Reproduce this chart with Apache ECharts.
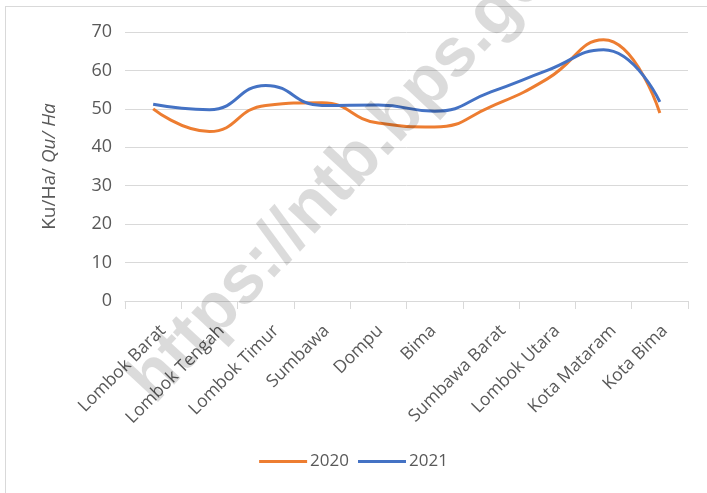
<!DOCTYPE html>
<html>
<head>
<meta charset="utf-8">
<script src="https://cdn.jsdelivr.net/npm/echarts@6/dist/echarts.min.js"></script>
<style>
  html, body { margin: 0; padding: 0; background: #fff; }
  #frame {
    position: absolute; left: 5px; top: 6px; width: 720px; height: 500px;
    border: 1px solid #d9d9d9; box-sizing: border-box;
  }
  #chart { position: absolute; left: 0; top: 0; width: 707px; height: 493px; }
</style>
</head>
<body>
<div id="frame"></div>
<div id="chart"></div>
<script>
// kabupaten / kota
const categories = ['Lombok Barat', 'Lombok Tengah', 'Lombok Timur', 'Sumbawa', 'Dompu',
  'Bima', 'Sumbawa Barat', 'Lombok Utara', 'Kota Mataram', 'Kota Bima'];
const values2020 = [50.0, 44.1, 50.9, 51.6, 46.3, 45.3, 50.6, 57.8, 68.0, 48.9];
const values2021 = [51.2, 49.8, 56.1, 50.9, 51.0, 49.4, 54.4, 60.0, 65.4, 51.8];
const seriesNames = ['2020', '2021'];
const yTicks = { min: 0, max: 70, interval: 10 };

const textColor = '#595959';
const font = '"Open Sans", "Liberation Sans", sans-serif';
const xFontSize = 17.5;

// excel nudges long rotated labels further right, so each label gets its own padding
const ctx = document.createElement('canvas').getContext('2d');
ctx.font = xFontSize + 'px ' + font;
const s = Math.SQRT1_2;
const labelRich = {};
categories.forEach((name, i) => {
  const w = ctx.measureText(name).width;
  const dx = -1.5 + 0.15 * (w - 40); // wanted shift right of tick centre
  const dy = 27;                     // wanted drop below axis line
  const k = dy / s;
  const b = (k + dx / s) / 2;
  const a = (dx / s - k) / 2;
  labelRich['l' + i] = {
    color: textColor,
    fontSize: xFontSize,
    fontFamily: font,
    padding: [2 * b, -a, 0, 0]
  };
});

const chart = echarts.init(document.getElementById('chart'));

chart.setOption({
  animation: false,
  grid: { left: 125, right: 19, top: 32, bottom: 192 },
  legend: {
    bottom: 18,
    left: 'center',
    itemWidth: 48,
    itemHeight: 3,
    itemGap: 9,
    icon: 'rect',
    textStyle: { color: textColor, fontSize: 17, fontFamily: font, padding: [0, 0, 0, -2] },
    data: seriesNames
  },
  xAxis: {
    type: 'category',
    data: categories,
    axisLine: { lineStyle: { color: '#d9d9d9', width: 1 } },
    axisTick: { show: true, length: 8, lineStyle: { color: '#d9d9d9' } },
    axisLabel: {
      rotate: 45,
      margin: 0,
      color: textColor,
      fontSize: xFontSize,
      fontFamily: font,
      interval: 0,
      formatter: (value, index) => '{l' + index + '|' + value + '}',
      rich: labelRich
    }
  },
  yAxis: {
    type: 'value',
    min: yTicks.min,
    max: yTicks.max,
    interval: yTicks.interval,
    name: 'Ku/Ha/ {i|Qu/ Ha}',
    nameLocation: 'middle',
    nameRotate: 90,
    nameGap: 66,
    nameTextStyle: {
      color: textColor,
      fontSize: 19,
      fontFamily: font,
      rich: { i: { fontStyle: 'italic', color: textColor, fontSize: 19, fontFamily: font } }
    },
    axisLine: { show: false },
    axisTick: { show: false },
    axisLabel: { color: textColor, fontSize: 18, fontFamily: font, margin: 13 },
    splitLine: { lineStyle: { color: '#d9d9d9', width: 1 } }
  },
  series: [
    {
      name: seriesNames[0],
      type: 'line',
      data: values2020,
      smooth: 0.5,
      showSymbol: false,
      symbol: 'none',
      color: '#ED7D31',
      lineStyle: { width: 3, color: '#ED7D31' }
    },
    {
      name: seriesNames[1],
      type: 'line',
      data: values2021,
      smooth: 0.5,
      showSymbol: false,
      symbol: 'none',
      color: '#4472C4',
      lineStyle: { width: 3, color: '#4472C4' }
    }
  ],
  graphic: [
    {
      type: 'text',
      x: 166,
      y: 416,
      rotation: 47 * Math.PI / 180,
      z: 100,
      silent: true,
      style: {
        text: 'https://ntb.bps.go.id',
        fontSize: 69,
        fontWeight: 'bold',
        fontFamily: '"Liberation Sans", Arial, sans-serif',
        fill: 'rgba(0,0,0,0.14)',
        align: 'left',
        verticalAlign: 'bottom'
      }
    }
  ]
});
</script>
</body>
</html>
